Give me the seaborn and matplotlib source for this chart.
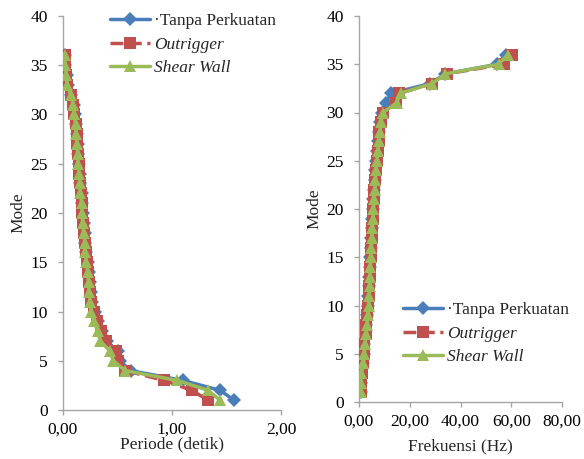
import matplotlib
matplotlib.use("Agg")
import matplotlib.pyplot as plt
import seaborn as sns
import pandas as pd

modes = list(range(1, 37))

period_tanpa = [1.57, 1.44, 1.10, 0.62, 0.52, 0.50, 0.40, 0.36, 0.32, 0.29, 0.27, 0.255,
                0.245, 0.235, 0.225, 0.215, 0.205, 0.20, 0.19, 0.18, 0.175, 0.17, 0.16, 0.155,
                0.15, 0.14, 0.135, 0.13, 0.12, 0.11, 0.10, 0.075, 0.045, 0.035, 0.022, 0.02]
period_outrigger = [1.33, 1.18, 0.93, 0.57, 0.50, 0.49, 0.39, 0.35, 0.31, 0.28, 0.26, 0.25,
                    0.24, 0.23, 0.22, 0.21, 0.20, 0.195, 0.185, 0.175, 0.17, 0.165, 0.155, 0.15,
                    0.145, 0.135, 0.13, 0.125, 0.115, 0.105, 0.095, 0.07, 0.04, 0.032, 0.02, 0.018]
period_shear = [1.44, 1.33, 1.05, 0.57, 0.46, 0.43, 0.34, 0.32, 0.28, 0.26, 0.25, 0.24,
                0.235, 0.225, 0.215, 0.205, 0.20, 0.19, 0.18, 0.175, 0.17, 0.16, 0.155, 0.15,
                0.14, 0.135, 0.13, 0.12, 0.115, 0.105, 0.095, 0.07, 0.04, 0.032, 0.02, 0.018]

freq_tanpa = [0.64, 0.69, 0.91, 1.6, 1.9, 2.0, 2.5, 2.8, 3.1, 3.4, 3.7, 3.9,
              4.1, 4.3, 4.4, 4.7, 4.9, 5.0, 5.3, 5.6, 5.7, 5.9, 6.3, 6.5,
              6.7, 7.1, 7.4, 7.7, 8.3, 9.1, 10.5, 12.8, 28.0, 34.0, 54.5, 58.0]
freq_outrigger = [0.75, 0.85, 1.08, 1.75, 2.0, 2.05, 2.6, 2.9, 3.2, 3.6, 3.85, 4.0,
                  4.2, 4.35, 4.55, 4.8, 5.0, 5.15, 5.4, 5.7, 5.9, 6.1, 6.45, 6.7,
                  6.9, 7.4, 7.7, 8.0, 8.7, 9.5, 14.5, 15.8, 28.8, 34.5, 57.0, 60.3]
freq_shear = [0.69, 0.75, 0.95, 1.75, 2.15, 2.3, 2.9, 3.1, 3.55, 3.85, 4.0, 4.15,
              4.25, 4.45, 4.65, 4.9, 5.0, 5.25, 5.55, 5.7, 5.9, 6.25, 6.45, 6.7,
              7.1, 7.4, 7.7, 8.3, 8.7, 9.5, 14.8, 16.5, 28.8, 34.0, 55.0, 58.6]

labels = ["\u00b7Tanpa Perkuatan", "Outrigger", "Shear Wall"]
colors = ["#4A7EBB", "#C0504D", "#9BBB59"]
markers = ["D", "s", "^"]
linestyles = ["-", "--", "-"]
msizes = [7, 8, 9]

sns.set_theme(style="white")
plt.rcParams['font.family'] = 'serif'
plt.rcParams['font.serif'] = ['Liberation Serif', 'DejaVu Serif']
FS = 12.5

fig = plt.figure(figsize=(5.84, 4.59), dpi=100)
W, H = 584, 459
axL = fig.add_axes([63 / W, 1 - 410 / H, (281 - 63) / W, (410 - 16) / H])
axR = fig.add_axes([359 / W, 1 - 402 / H, (562 - 359) / W, (402 - 16) / H])

periods = [period_tanpa, period_outrigger, period_shear]
freqs = [freq_tanpa, freq_outrigger, freq_shear]

for ax, data in [(axL, periods), (axR, freqs)]:
    for i in range(3):
        df = pd.DataFrame({"x": data[i], "mode": modes})
        sns.lineplot(data=df, x="x", y="mode", sort=False, estimator=None, ax=ax,
                     color=colors[i], marker=markers[i], markersize=msizes[i],
                     markeredgewidth=0, linewidth=2.5, linestyle=linestyles[i],
                     label=labels[i], zorder=2 + i)

gray = "#A6A6A6"
for ax in (axL, axR):
    ax.set_ylim(0, 40)
    ax.set_yticks(range(0, 41, 5))
    for s in ("top", "right"):
        ax.spines[s].set_visible(False)
    for s in ("left", "bottom"):
        ax.spines[s].set_color(gray)
        ax.spines[s].set_linewidth(1.0)
    ax.tick_params(axis="both", direction="out", length=3.5, width=1, color=gray,
                   labelsize=FS, labelcolor="black", left=True, bottom=True)
    ax.tick_params(axis="y", pad=7.5)
    ax.tick_params(axis="x", pad=5)
    ax.set_ylabel("Mode", fontsize=FS, labelpad=3)
    ax.grid(False)

axL.set_xlim(0, 2)
axL.set_xticks([0, 1, 2])
axL.set_xticklabels(["0,00", "1,00", "2,00"])
axL.set_xlabel("Periode (detik)", fontsize=FS, labelpad=-1)

axR.set_xlim(0, 80)
axR.set_xticks([0, 20, 40, 60, 80])
axR.set_xticklabels(["0,00", "20,00", "40,00", "60,00", "80,00"])
axR.set_xlabel("Frekuensi (Hz)", fontsize=FS, labelpad=6)

for ax, anchor in [(axL, (110 / W, 1 - 13 / H)), (axR, (403 / W, 1 - 302 / H))]:
    leg = ax.legend(loc="upper left", bbox_to_anchor=anchor, bbox_transform=fig.transFigure,
                    frameon=False, fontsize=FS, handlelength=2.3, handletextpad=0.25,
                    labelspacing=0.42, borderaxespad=0, borderpad=0)
    for t in leg.get_texts()[1:]:
        t.set_fontstyle("italic")

fig.savefig("out.png", dpi=100)
